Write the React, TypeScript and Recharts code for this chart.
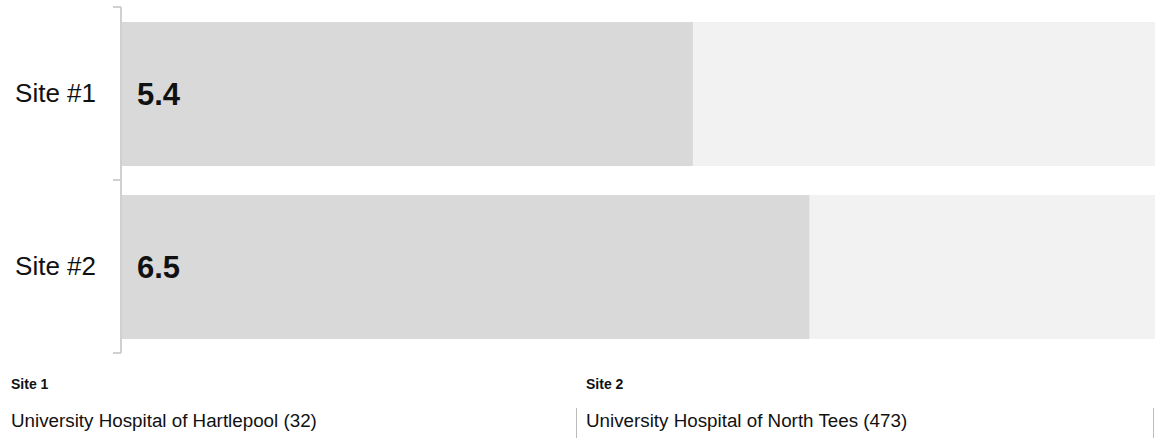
import { BarChart, Bar, XAxis, YAxis, LabelList } from "recharts";

const sites = ["Site #1", "Site #2"];
const scores = [5.4, 6.5];
const scoreMax = 10;
const footerTitles = ["Site 1", "Site 2"];
const footerNames = ["University Hospital of Hartlepool (32)", "University Hospital of North Tees (473)"];

const data = sites.map((site, i) => ({ site, score: scores[i] }));

const FONT = "'Liberation Sans', Arial, Helvetica, sans-serif";
const TICK_SIZE = 8;
const TICK_MARGIN = 17;

// category labels with small tick marks on the band edges instead of the centres
function SiteTick(props: any) {
  const { x, y, payload, index, visibleTicksCount } = props;
  const half = payload.offset ?? 86;
  const axisX = x + TICK_SIZE + TICK_MARGIN;
  const isLast = index === (visibleTicksCount ?? sites.length) - 1;
  return (
    <g>
      <line x1={axisX - TICK_SIZE} x2={axisX} y1={y - half} y2={y - half} stroke="#d0d0d0" strokeWidth={2} />
      {isLast && (
        <line x1={axisX - TICK_SIZE} x2={axisX} y1={y + half} y2={y + half} stroke="#d0d0d0" strokeWidth={2} />
      )}
      <text x={x} y={y - 1} textAnchor="end" dominantBaseline="central" fontSize={26} fill="#111" fontFamily={FONT}>
        {payload.value}
      </text>
    </g>
  );
}

export default function App() {
  return (
    <div style={{ position: "absolute", left: 0, top: 0, width: 1155, height: 438, overflow: "hidden", fontFamily: FONT, background: "#fff" }}>
      <BarChart
        width={1180}
        height={360}
        data={data}
        layout="vertical"
        margin={{ top: 7, right: 0, bottom: 7, left: 0 }}
      >
        <XAxis type="number" domain={[0, scoreMax]} hide />
        <YAxis
          type="category"
          dataKey="site"
          width={121}
          tickSize={TICK_SIZE}
          tickMargin={TICK_MARGIN}
          tickLine={false}
          axisLine={{ stroke: "#d0d0d0", strokeWidth: 2 }}
          tick={<SiteTick />}
        />
        <Bar dataKey="score" fill="#d9d9d9" barSize={144} background={{ fill: "#f2f2f2" }} isAnimationActive={false}>
          <LabelList
            dataKey="score"
            position="insideLeft"
            offset={16}
            formatter={(v: any) => Number(v).toFixed(1)}
            style={{ fontSize: 31, fontWeight: 700, fill: "#111", fontFamily: FONT }}
          />
        </Bar>
      </BarChart>
      <div style={{ display: "flex", position: "absolute", top: 360, left: 0 }}>
        {footerTitles.map((title, i) => (
          <div key={title} style={{ width: 577, flex: "none", boxSizing: "border-box" }}>
            <div style={{ fontSize: 14, fontWeight: 700, color: "#111", paddingLeft: i === 0 ? 11 : 9, height: 48, lineHeight: "48px" }}>
              {title}
            </div>
            <div
              style={{
                fontSize: 18.8,
                color: "#111",
                paddingLeft: i === 0 ? 11 : 9,
                borderRight: "1px solid #bbb",
                height: 30,
                lineHeight: "26px",
                whiteSpace: "nowrap",
              }}
            >
              {footerNames[i]}
            </div>
          </div>
        ))}
      </div>
    </div>
  );
}
